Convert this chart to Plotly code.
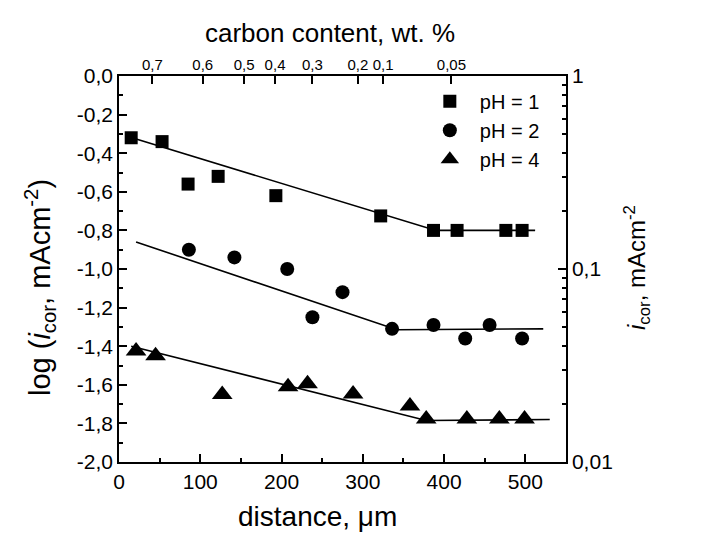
import plotly.graph_objects as go

# ---- data ----
dist_ph1 = [15, 53, 85, 122, 193, 322, 387, 416, 476, 496]
log_ph1 = [-0.32, -0.34, -0.56, -0.52, -0.62, -0.725, -0.80, -0.80, -0.80, -0.80]
fit_x_ph1 = [8, 390, 512]
fit_y_ph1 = [-0.31, -0.80, -0.80]

dist_ph2 = [86, 142, 207, 238, 275, 336, 387, 426, 456, 496]
log_ph2 = [-0.90, -0.94, -1.00, -1.25, -1.12, -1.31, -1.29, -1.36, -1.29, -1.36]
fit_x_ph2 = [21, 342, 522]
fit_y_ph2 = [-0.86, -1.315, -1.31]

dist_ph4 = [21, 45, 127, 208, 232, 288, 358, 378, 428, 468, 499]
log_ph4 = [-1.425, -1.45, -1.65, -1.61, -1.595, -1.648, -1.71, -1.777, -1.777, -1.777, -1.777]
fit_x_ph4 = [15, 378, 530]
fit_y_ph4 = [-1.40, -1.785, -1.78]

carbon_pos = [41, 103, 154, 192, 238, 294, 325, 409]
carbon_labels = ["0,7", "0,6", "0,5", "0,4", "0,3", "0,2", "0,1", "0,05"]

left_vals = [0, -0.2, -0.4, -0.6, -0.8, -1.0, -1.2, -1.4, -1.6, -1.8, -2.0]
left_labels = ["0,0", "-0,2", "-0,4", "-0,6", "-0,8", "-1,0", "-1,2", "-1,4", "-1,6", "-1,8", "-2,0"]
right_vals = [0.01, 0.1, 1]
right_labels = ["0,01", "0,1", "1"]
right_minor = [0.02, 0.03, 0.04, 0.05, 0.06, 0.07, 0.08, 0.09,
               0.2, 0.3, 0.4, 0.5, 0.6, 0.7, 0.8, 0.9]

FONT = "Liberation Sans, Arial, sans-serif"
fig = go.Figure()

for fx, fy in [(fit_x_ph1, fit_y_ph1), (fit_x_ph2, fit_y_ph2), (fit_x_ph4, fit_y_ph4)]:
    fig.add_trace(go.Scatter(x=fx, y=fy, mode="lines", line=dict(color="black", width=1.6),
                             showlegend=False, hoverinfo="skip"))

fig.add_trace(go.Scatter(x=dist_ph1, y=log_ph1, mode="markers", name="pH = 1",
                         marker=dict(symbol="square", size=13, color="black")))
fig.add_trace(go.Scatter(x=dist_ph2, y=log_ph2, mode="markers", name="pH = 2",
                         marker=dict(symbol="circle", size=14, color="black")))
fig.add_trace(go.Scatter(x=dist_ph4, y=log_ph4, mode="markers", name="pH = 4",
                         marker=dict(symbol="triangle-up", size=18, color="black")))

# invisible trace to activate secondary axes
fig.add_trace(go.Scatter(x=carbon_pos[:3], y=right_vals, xaxis="x2", yaxis="y2", mode="markers",
                         marker=dict(opacity=0), showlegend=False, hoverinfo="skip"))

axis_common = dict(showline=True, linecolor="black", linewidth=1.5, ticks="inside",
                   tickcolor="black", tickwidth=1.5, showgrid=False, zeroline=False,
                   automargin=False,
                   tickfont=dict(family=FONT, size=21, color="black"))

fig.update_layout(
    width=710, height=534,
    margin=dict(l=119, r=144, t=76, b=72),
    paper_bgcolor="white", plot_bgcolor="white",
    font=dict(family=FONT, color="black"),
    xaxis=dict(range=[0, 550], tickvals=[0, 100, 200, 300, 400, 500], ticklen=8,
               minor=dict(tickvals=[50, 150, 250, 350, 450], ticklen=4, ticks="inside",
                          tickcolor="black", tickwidth=1.5),
               **axis_common),
    xaxis2=dict(range=[0, 550], overlaying="x", side="top", tickvals=carbon_pos,
                ticktext=carbon_labels, ticklen=8, showline=True, linecolor="black",
                linewidth=1.5, ticks="inside", tickcolor="black", tickwidth=1.5,
                showgrid=False, zeroline=False, automargin=False, ticklabelstandoff=-2,
                tickfont=dict(family=FONT, size=15, color="black")),
    yaxis=dict(range=[-2, 0], tickvals=left_vals, ticktext=left_labels, ticklen=8,
               minor=dict(tickvals=[-0.1, -0.3, -0.5, -0.7, -0.9, -1.1, -1.3, -1.5, -1.7, -1.9],
                          ticklen=4, ticks="inside", tickcolor="black", tickwidth=1.5),
               **axis_common),
    yaxis2=dict(type="log", range=[-2, 0], overlaying="y", side="right",
                tickvals=right_vals, ticktext=right_labels, ticklen=8,
                minor=dict(tickvals=right_minor, ticklen=4, ticks="inside",
                           tickcolor="black", tickwidth=1.5),
                **axis_common),
    legend=dict(x=0.673, y=0.985, xanchor="left", yanchor="top", bgcolor="rgba(0,0,0,0)",
                font=dict(family=FONT, size=20, color="black"), tracegroupgap=0,
                itemwidth=50),
    showlegend=True,
)

annots = [
    dict(text="log (<i>i</i><sub>cor</sub>, mAcm<sup>-2</sup>)", x=40, y=288, textangle=-90, size=29),
    dict(text="<i>i</i><sub>cor</sub>, mAcm<sup>-2</sup>", x=637, y=268, textangle=-90, size=24),
    dict(text="distance, μm", x=317, y=516, textangle=0, size=28),
    dict(text="carbon content, wt. %", x=330, y=33, textangle=0, size=26),
]
for a in annots:
    fig.add_annotation(text=a["text"], xref="paper", yref="paper",
                       x=(a["x"] - 119) / 447, y=(462 - a["y"]) / 386,
                       xanchor="center", yanchor="middle", showarrow=False,
                       textangle=a["textangle"],
                       font=dict(family=FONT, size=a["size"], color="black"))

fig.write_html("out.html", config={"displayModeBar": False},
               post_script="document.body.style.margin='0px';")
